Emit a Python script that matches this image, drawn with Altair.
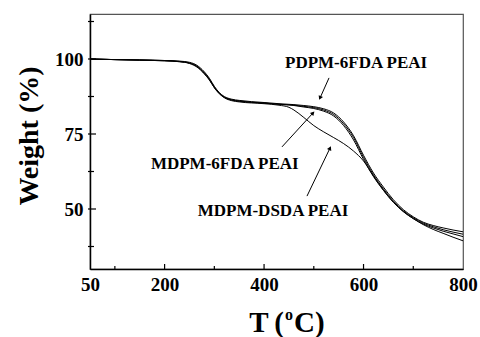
import math
import altair as alt
import pandas as pd

# ---------------- data ----------------
T = [50, 100, 150, 200, 230, 250, 265, 280, 290, 300, 310, 320, 335, 350, 400,
     430, 450, 460, 480, 500, 520, 540, 560, 580, 600, 620, 640, 660, 680, 700,
     720, 740, 760, 780, 800]

w_pdpm_6fda = [100.0, 99.8, 99.7, 99.5, 99.3, 98.9, 97.9, 95.7, 93.6, 90.9, 88.8, 87.5,
               86.6, 86.2, 85.5, 85.1, 84.9, 84.8, 84.5, 84.1, 83.4, 82.0, 79.0, 74.4,
               67.9, 62.0, 57.3, 53.1, 49.8, 47.4, 45.6, 44.5, 43.7, 43.0, 42.4]
w_mdpm_6fda = [100.0, 99.8, 99.6, 99.4, 99.1, 98.5, 97.3, 95.0, 93.0, 90.4, 88.4, 87.2,
               86.3, 85.9, 85.3, 84.9, 84.7, 84.6, 84.2, 83.8, 83.0, 81.5, 78.4, 73.8,
               67.2, 61.4, 56.7, 52.6, 49.4, 47.1, 45.3, 44.1, 43.1, 42.3, 41.6]
w_other = [100.0, 99.8, 99.7, 99.5, 99.2, 98.7, 97.6, 95.4, 93.3, 90.6, 88.6, 87.3,
           86.4, 86.0, 85.3, 84.9, 84.7, 84.5, 84.0, 83.5, 82.6, 81.0, 77.8, 73.0,
           66.5, 60.8, 56.2, 52.2, 49.1, 46.8, 45.0, 43.7, 42.6, 41.7, 40.8]
w_mdpm_dsda = [100.0, 99.8, 99.6, 99.4, 99.1, 98.6, 97.5, 95.2, 93.1, 90.5, 88.5, 87.1,
               86.1, 85.7, 85.1, 84.6, 83.9, 83.0, 80.5, 77.8, 75.7, 73.8, 71.8, 69.3,
               66.0, 61.0, 56.3, 52.3, 49.2, 46.8, 44.8, 43.2, 41.9, 40.6, 39.4]

series_names = ["PDPM-6FDA PEAI", "MDPM-6FDA PEAI", "other PEAI", "MDPM-DSDA PEAI"]
series_values = [w_pdpm_6fda, w_mdpm_6fda, w_other, w_mdpm_dsda]

x_labels = [50, 200, 400, 600, 800]
y_labels = [50, 75, 100]
x_major = [200, 400, 600]
x_minor = [100, 300, 500, 700]
y_major = [50, 75, 100]
y_minor = [37.5, 62.5, 87.5, 112.5]

ann_text = ["PDPM-6FDA PEAI", "MDPM-6FDA PEAI", "MDPM-DSDA PEAI"]
ann_T = [585, 321, 418]
ann_W = [98.7, 65.0, 49.3]

arrow_T1 = [530.6, 436.0, 486.3]
arrow_W1 = [93.7, 70.7, 54.3]
arrow_T2 = [512.5, 498.4, 532.6]
arrow_W2 = [87.0, 82.0, 70.3]

# ---------------- layout ----------------
W_PX, H_PX = 373, 255
X_DOM = [50, 800]
Y_DOM = [30, 115]
FONT = "Times New Roman, Liberation Serif, DejaVu Serif, serif"

rows = []
for name, vals in zip(series_names, series_values):
    for t, w in zip(T, vals):
        rows.append({"series": name, "T": t, "W": w})
df = pd.DataFrame(rows)

xs = alt.Scale(domain=X_DOM, nice=False, zero=False)
ys = alt.Scale(domain=Y_DOM, nice=False, zero=False)
XAX = alt.Axis(values=x_labels, format="d", ticks=False, grid=False, title=None,
               labelFont=FONT, labelFontSize=19, labelFontWeight="bold", labelColor="black",
               labelPadding=6, labelFlush=False, domainColor="black", domainWidth=1.5)
YAX = alt.Axis(values=y_labels, format="d", ticks=False, grid=False, title=None,
               labelFont=FONT, labelFontSize=19, labelFontWeight="bold", labelColor="black",
               labelPadding=7, domainColor="black", domainWidth=1.5)

lines = alt.Chart(df).mark_line(interpolate="monotone", color="black", strokeWidth=1).encode(
    x=alt.X("T:Q", scale=xs, axis=XAX),
    y=alt.Y("W:Q", scale=ys, axis=YAX),
    detail="series:N",
)

def tick_x(vals, length):
    return alt.Chart(pd.DataFrame({"v": vals})).mark_rule(color="black", strokeWidth=1.2).encode(
        x=alt.X("v:Q", scale=xs, axis=XAX),
        y=alt.value(H_PX), y2=alt.value(H_PX - length))

def tick_y(vals, length):
    return alt.Chart(pd.DataFrame({"v": vals})).mark_rule(color="black", strokeWidth=1.2).encode(
        y=alt.Y("v:Q", scale=ys, axis=YAX),
        x=alt.value(-2), x2=alt.value(length))

ann = alt.Chart(pd.DataFrame({"t": ann_text, "T": ann_T, "W": ann_W})).mark_text(
    font=FONT, fontSize=17, fontWeight="bold", color="black", align="center", baseline="middle"
).encode(x=alt.X("T:Q", scale=xs, axis=XAX), y=alt.Y("W:Q", scale=ys, axis=YAX), text="t:N")

px_T = W_PX / (X_DOM[1] - X_DOM[0])
px_W = H_PX / (Y_DOM[1] - Y_DOM[0])
angles = []
for t1, w1, t2, w2 in zip(arrow_T1, arrow_W1, arrow_T2, arrow_W2):
    dx = (t2 - t1) * px_T
    dy = -(w2 - w1) * px_W
    angles.append(math.degrees(math.atan2(dx, -dy)) % 360)

arr_df = pd.DataFrame({"T1": arrow_T1, "W1": arrow_W1, "T2": arrow_T2, "W2": arrow_W2, "ang": angles})
arrow_lines = alt.Chart(arr_df).mark_rule(color="black", strokeWidth=1).encode(
    x=alt.X("T1:Q", scale=xs, axis=XAX), y=alt.Y("W1:Q", scale=ys, axis=YAX),
    x2="T2:Q", y2="W2:Q")
arrow_heads = alt.Chart(arr_df).mark_point(shape="triangle-up", filled=True, size=22,
                                           color="black", opacity=1).encode(
    x=alt.X("T2:Q", scale=xs, axis=XAX), y=alt.Y("W2:Q", scale=ys, axis=YAX),
    angle=alt.Angle("ang:Q", scale=None))

one = pd.DataFrame({"a": [0]})
ytitle = alt.Chart(one).mark_text(text="Weight (%)", font=FONT, fontSize=28, fontWeight="bold",
                                  color="black", angle=270, align="center", baseline="middle").encode(
    x=alt.value(-60), y=alt.value(122))
xt1 = alt.Chart(one).mark_text(text="T\u2009(", font=FONT, fontSize=29, fontWeight="bold", color="black",
                               align="right", baseline="alphabetic").encode(x=alt.value(194), y=alt.value(318))
xt2 = alt.Chart(one).mark_text(text="o", font=FONT, fontSize=16, fontWeight="bold", color="black",
                               align="left", baseline="alphabetic").encode(x=alt.value(195), y=alt.value(306))
xt3 = alt.Chart(one).mark_text(text="C)", font=FONT, fontSize=29, fontWeight="bold", color="black",
                               align="left", baseline="alphabetic").encode(x=alt.value(204), y=alt.value(318))

chart = alt.layer(
    lines, tick_x(x_major, 5), tick_x(x_minor, 3), tick_y(y_major, 6), tick_y(y_minor, 4),
    arrow_lines, arrow_heads, ann, ytitle, xt1, xt2, xt3
).properties(
    width=W_PX, height=H_PX,
    autosize=alt.AutoSizeParams(type="none"),
    padding={"left": 90, "top": 14, "right": 17, "bottom": 68},
    background="white",
).configure_view(stroke="#555555", strokeWidth=1.2)

chart.save("out.html", embed_options={"renderer": "svg", "actions": False})
